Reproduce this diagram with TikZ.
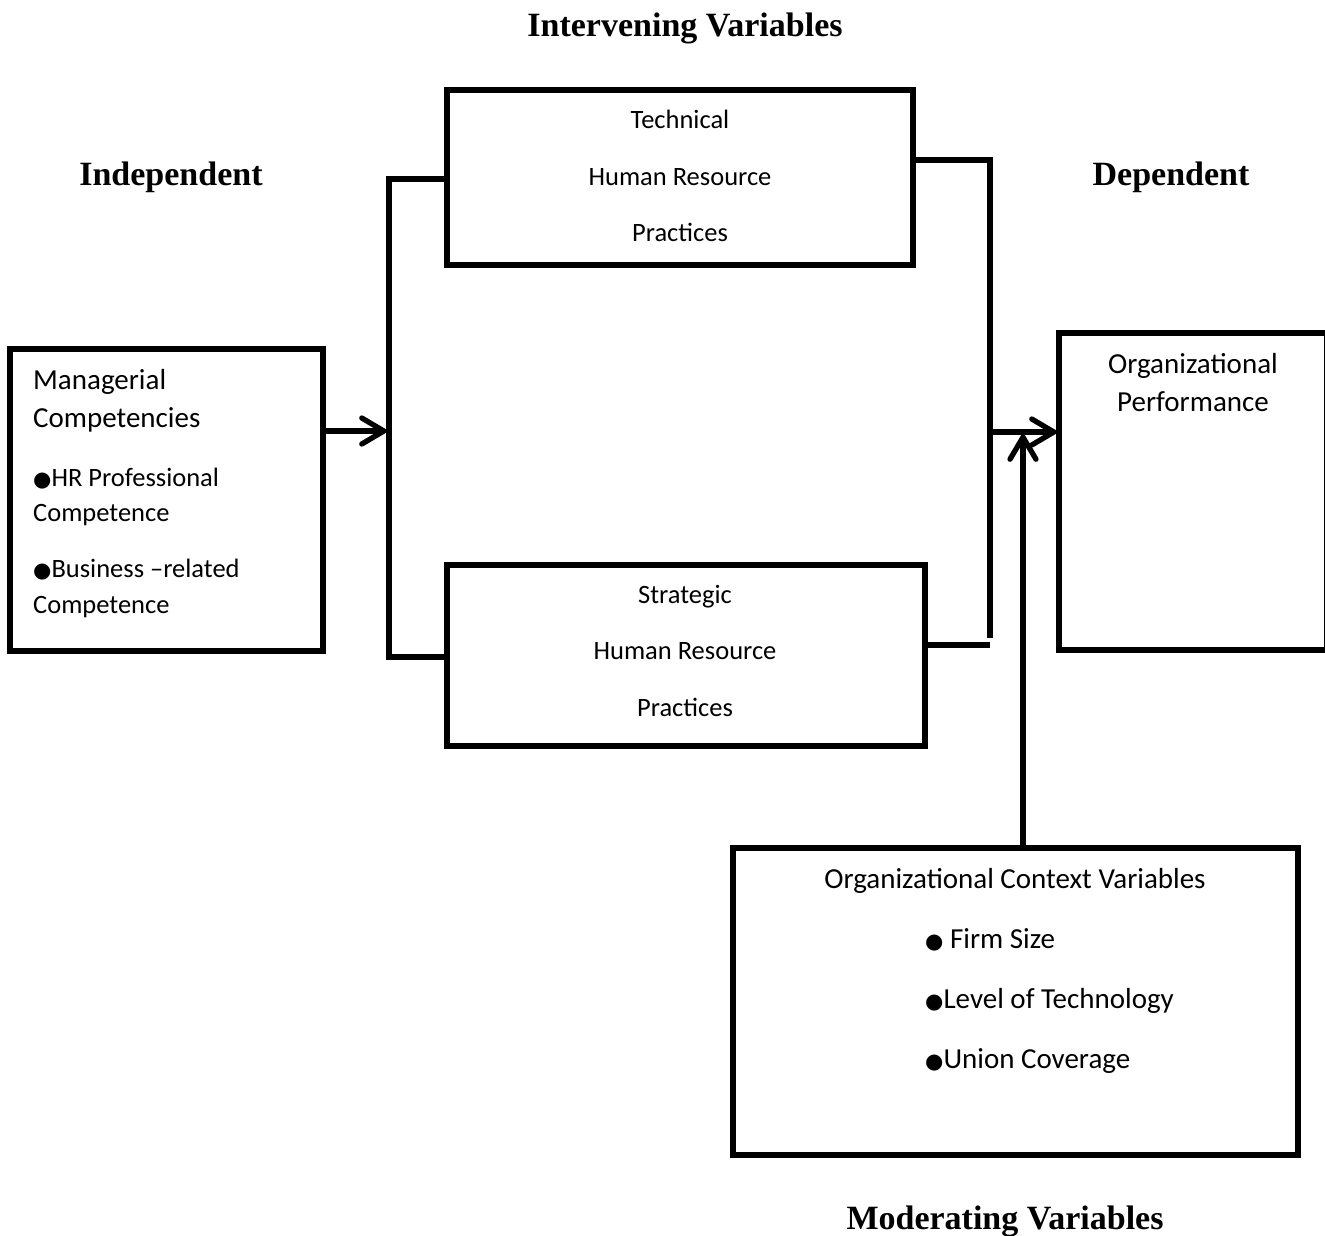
\documentclass[tikz,border=0pt]{standalone}
\usepackage{fontspec}
\setmainfont{Carlito}
\newfontfamily\headfont{Liberation Serif}
\newfontfamily\symfont{DejaVu Sans}
\usetikzlibrary{arrows.meta}
\newcommand{\bul}{{\symfont\fontsize{21}{21}\selectfont ●}}
\begin{document}
\begin{tikzpicture}[x=1pt,y=-1pt,
 box/.style={draw, line width=5.5pt, inner sep=0pt, outer sep=0pt},
 conn/.style={line width=5.3pt},
 arr/.style={line width=5.3pt, -{Straight Barb[length=22pt,width=26pt,line cap=round]}},
 bodytxt/.style={font=\fontsize{26.5}{32}\selectfont, inner sep=0pt, text height=17pt, text depth=0pt},
 bigtxt/.style={font=\fontsize{29}{35}\selectfont, inner sep=0pt, text height=18.7pt, text depth=0pt},
 head/.style={font=\headfont\bfseries\fontsize{34}{40}\selectfont, inner sep=0pt, text height=22.5pt, text depth=0pt}]
\useasboundingbox (0,0) rectangle (1325,1235);
% boxes
\node[box, minimum width=313pt, minimum height=302pt] (mc) at (166.5,500) {};
\node[box, minimum width=466pt, minimum height=175pt] (tech) at (680,177.5) {};
\node[box, minimum width=478pt, minimum height=181pt] (strat) at (686,655.5) {};
\node[box, minimum width=268pt, minimum height=317pt] (perf) at (1193,491.5) {};
\node[box, minimum width=565pt, minimum height=307pt] (ctx) at (1015.5,1001.5) {};
% coordinates
\coordinate (bt) at (389,179);
\coordinate (bb) at (389,657);
\coordinate (lm) at (389,431);
\coordinate (rt) at (990,160);
\coordinate (rb) at (990,638);
\coordinate (rbh) at (990,645);
\coordinate (rm) at (990,432);
\coordinate (up) at (1023,432);
% connectors
\draw[conn] (bt -| tech.west) -- (bt) -- (bb) -- (bb -| strat.west);
\draw[arr] (lm -| mc.east) -- (lm);
\draw[conn] (rt -| tech.east) -- (rt) -- (rb);
\draw[conn] (rbh -| strat.east) -- (rbh);
\draw[arr] (rm) -- (rm -| perf.west);
\draw[arr] (up |- ctx.north) -- (up);
% headings
\node[head] (h1) at (685,25) {Intervening Variables};
\node[head] (h2) at (171,174) {Independent};
\node[head] (h3) at (1171,174) {Dependent};
\node[head] (h4) at (1005,1218) {Moderating Variables};
% left box text
\node[bigtxt, anchor=west] (m1) at (33,380) {Managerial};
\node[bigtxt, anchor=west] (m2) at (33,418) {Competencies};
\node[bodytxt, anchor=west] (m3) at (33,478) {\bul HR Professional};
\node[bodytxt, anchor=west] (m4) at (33,513) {Competence};
\node[bodytxt, anchor=west] (m5) at (33,569) {\bul Business –related};
\node[bodytxt, anchor=west] (m6) at (33,605) {Competence};
% technical
\node[bodytxt] (t1) at (680,120) {Technical};
\node[bodytxt] (t2) at (680,177) {Human Resource};
\node[bodytxt] (t3) at (680,233) {Practices};
% strategic
\node[bodytxt] (s1) at (685,595) {Strategic};
\node[bodytxt] (s2) at (685,651) {Human Resource};
\node[bodytxt] (s3) at (685,708) {Practices};
% performance
\node[bigtxt] (p1) at (1193,364) {Organizational};
\node[bigtxt] (p2) at (1193,402) {Performance};
% context
\node[bigtxt] (c1) at (1015,879) {Organizational Context Variables};
\node[bigtxt, anchor=west] (c2) at (925,939) {\bul\ Firm Size};
\node[bigtxt, anchor=west] (c3) at (925,999) {\bul Level of Technology};
\node[bigtxt, anchor=west] (c4) at (925,1059) {\bul Union Coverage};
\end{tikzpicture}
\end{document}
